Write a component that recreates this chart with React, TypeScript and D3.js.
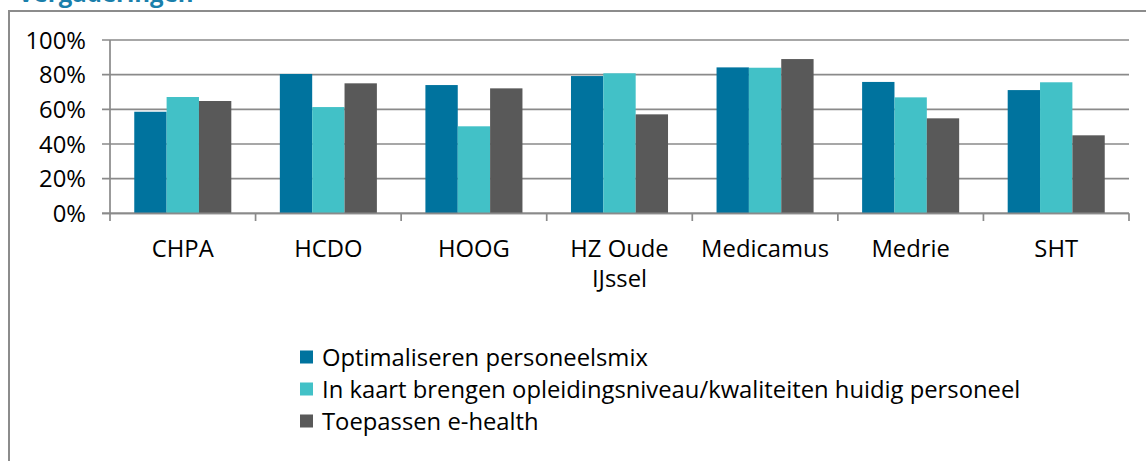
import React, { useEffect, useRef } from 'react';
import * as d3 from 'd3';

const categories = ['CHPA', 'HCDO', 'HOOG', 'HZ Oude IJssel', 'Medicamus', 'Medrie', 'SHT'];
const seriesNames = [
  'Optimaliseren personeelsmix',
  'In kaart brengen opleidingsniveau/kwaliteiten huidig personeel',
  'Toepassen e-health',
];
const personeelsmix = [0.586, 0.804, 0.74, 0.792, 0.842, 0.758, 0.711];
const opleidingsniveau = [0.671, 0.613, 0.502, 0.808, 0.84, 0.669, 0.756];
const eHealth = [0.648, 0.75, 0.721, 0.571, 0.89, 0.548, 0.45];
const yTicks = [0, 0.2, 0.4, 0.6, 0.8, 1];
const colors = ['#00739e', '#42c1c7', '#595959'];

const W = 1146;
const H = 461;
const FONT = '"Open Sans", sans-serif';
const FS = 23.8;

export default function App() {
  const ref = useRef<SVGSVGElement>(null);

  useEffect(() => {
    const svg = d3.select(ref.current);
    svg.selectAll('*').remove();
    svg.attr('width', W).attr('height', H);

    const values = [personeelsmix, opleidingsniveau, eHealth];

    // title, cut off above the picture like in the source
    svg.append('text')
      .attr('x', 18).attr('y', 2)
      .attr('font-family', FONT).attr('font-weight', 700).attr('font-size', 24)
      .attr('fill', '#1a7fab')
      .text('Vergaderingen');

    // frame
    svg.append('path')
      .attr('d', `M9,${H + 2} V11 H${W + 2}`)
      .attr('fill', 'none').attr('stroke', '#8c8c8c').attr('stroke-width', 2);

    const x = d3.scaleBand().domain(categories).range([110, 1129]).padding(0);
    const bw = x.bandwidth();
    const gap = (bw / 4.5) * 0.75;
    const x1 = d3.scaleBand().domain(['0', '1', '2']).range([gap, bw - gap]).padding(0);
    const y = d3.scaleLinear().domain([0, 1]).range([213.3, 40]);

    // gridlines
    svg.append('g').selectAll('line').data(yTicks).join('line')
      .attr('x1', 102).attr('x2', 1129)
      .attr('y1', (d) => y(d)).attr('y2', (d) => y(d))
      .attr('stroke', '#8a8a8a').attr('stroke-width', 1.7);

    svg.append('g').selectAll('text').data(yTicks).join('text')
      .attr('x', 86).attr('y', (d) => y(d))
      .attr('dy', '0.36em')
      .attr('text-anchor', 'end')
      .attr('font-family', FONT).attr('font-size', FS).attr('fill', '#000')
      .text((d) => d3.format('.0%')(d));

    // bars
    values.forEach((vals, si) => {
      svg.append('g').selectAll('rect').data(vals).join('rect')
        .attr('x', (d, i) => (x(categories[i]) as number) + (x1(String(si)) as number))
        .attr('y', (d) => y(d))
        .attr('width', x1.bandwidth())
        .attr('height', (d) => y(0) - y(d))
        .attr('fill', colors[si]);
    });

    // axes
    svg.append('line')
      .attr('x1', 110).attr('x2', 110).attr('y1', 40).attr('y2', 213.3)
      .attr('stroke', '#8a8a8a').attr('stroke-width', 1.7);
    svg.append('line')
      .attr('x1', 102).attr('x2', 1129).attr('y1', 213.3).attr('y2', 213.3)
      .attr('stroke', '#8a8a8a').attr('stroke-width', 1.7);

    const bounds = categories.map((c) => x(c) as number).concat([1129]);
    svg.append('g').selectAll('line').data(bounds).join('line')
      .attr('x1', (d) => d).attr('x2', (d) => d)
      .attr('y1', 213.3).attr('y2', 221)
      .attr('stroke', '#8a8a8a').attr('stroke-width', 1.7);

    // category labels
    const wrap: Record<string, string[]> = { 'HZ Oude IJssel': ['HZ Oude', 'IJssel'] };
    const lab = svg.append('g').selectAll('text').data(categories).join('text')
      .attr('x', (d) => (x(d) as number) + bw / 2)
      .attr('y', 257)
      .attr('text-anchor', 'middle')
      .attr('font-family', FONT).attr('font-size', FS).attr('fill', '#000');
    lab.each(function (d) {
      const lines = wrap[d] || [d];
      d3.select(this).selectAll('tspan').data(lines).join('tspan')
        .attr('x', (x(d) as number) + bw / 2)
        .attr('dy', (l, i) => (i === 0 ? 0 : 30))
        .text((l) => l);
    });

    // legend
    const leg = svg.append('g').selectAll('g').data(seriesNames).join('g')
      .attr('transform', (d, i) => `translate(300,${357 + i * 32})`);
    leg.append('rect')
      .attr('x', 0).attr('y', -6.5).attr('width', 13).attr('height', 13)
      .attr('fill', (d, i) => colors[i]);
    leg.append('text')
      .attr('x', 22).attr('y', 0).attr('dy', '0.36em')
      .attr('font-family', FONT).attr('font-size', FS).attr('fill', '#000')
      .text((d) => d);
  }, []);

  return (
    <div style={{ position: 'absolute', left: 0, top: 0, background: '#fff' }}>
      <svg ref={ref} style={{ display: 'block' }}></svg>
    </div>
  );
}
